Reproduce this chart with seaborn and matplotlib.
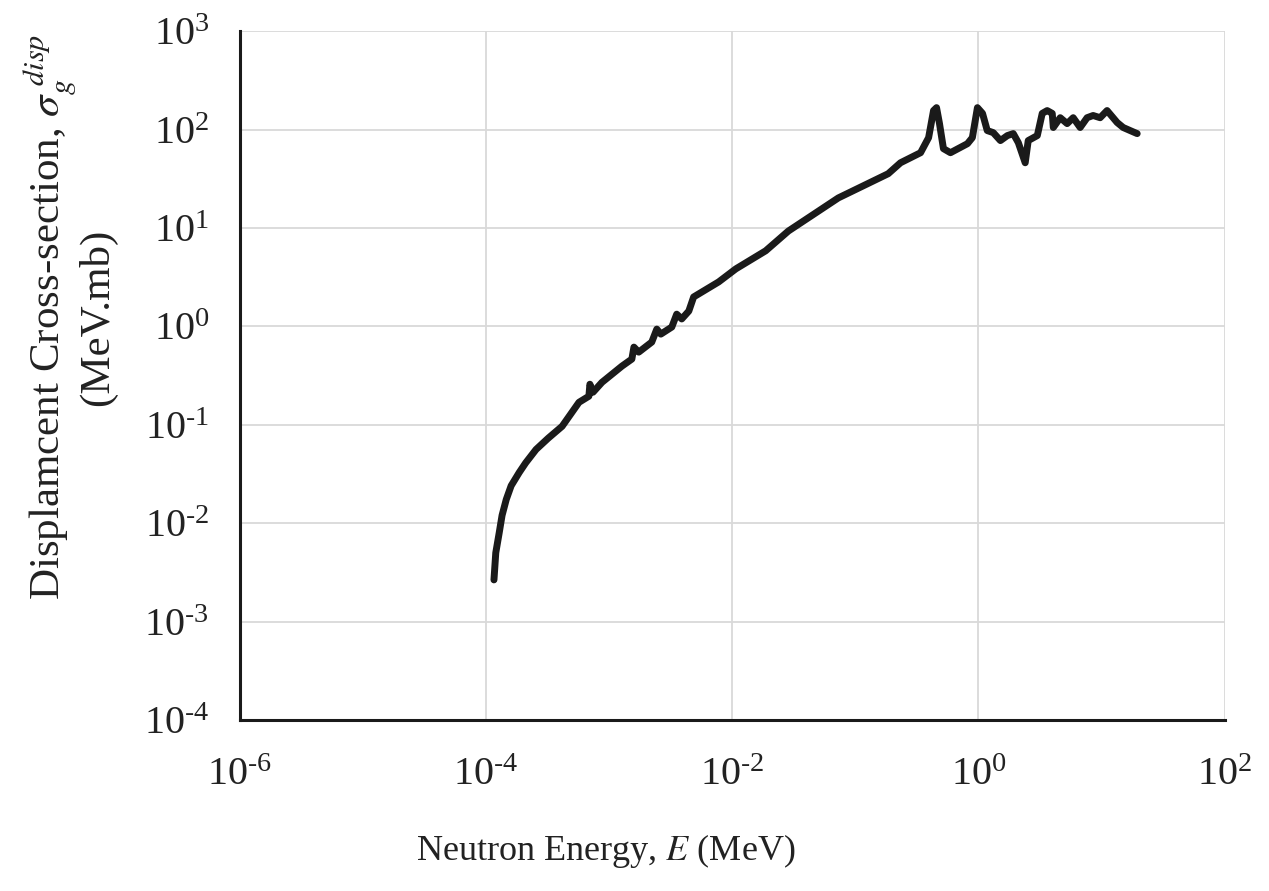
import numpy as np
import pandas as pd
import seaborn as sns
import matplotlib
matplotlib.use("Agg")
import matplotlib.pyplot as plt
from matplotlib.ticker import FixedLocator, FixedFormatter, NullLocator

# neutron energy (MeV)
energy = [
    1.16e-4, 1.20e-4, 1.28e-4, 1.35e-4, 1.46e-4, 1.60e-4, 1.86e-4, 2.10e-4,
    2.55e-4, 3.20e-4, 4.15e-4, 5.69e-4, 6.85e-4,
    6.98e-4, 7.40e-4, 8.75e-4, 1.27e-3, 1.53e-3, 1.59e-3, 1.74e-3, 2.22e-3,
    2.44e-3, 2.63e-3, 3.23e-3, 3.54e-3, 3.89e-3, 4.44e-3, 4.86e-3, 7.76e-3,
    1.07e-2, 1.87e-2, 2.86e-2, 7.28e-2, 0.185, 0.233, 0.339, 0.394,
    0.432, 0.457, 0.483, 0.520, 0.593, 0.815, 0.893, 0.982,
    1.08, 1.18, 1.32, 1.51, 1.72, 1.92, 2.11, 2.40,
    2.54, 3.01, 3.30, 3.62, 3.98, 4.06, 4.62, 5.26,
    5.89, 6.71, 7.64, 8.55, 9.75, 11.1, 13.4, 15.0,
    17.1, 19.5,
]

# displacement cross-section (MeV.mb)
sigma = [
    2.65e-3, 5.0e-3, 8.0e-3, 1.2e-2, 1.74e-2, 2.4e-2, 3.27e-2, 4.1e-2,
    5.61e-2, 7.3e-2, 9.64e-2, 0.169, 0.195,
    0.258, 0.214, 0.270, 0.394, 0.465, 0.615, 0.547, 0.692,
    0.938, 0.834, 0.984, 1.33, 1.19, 1.43, 1.99, 2.83,
    3.84, 5.86, 9.31, 20.2, 35.6, 46.0, 58.2, 82.8,
    156, 167, 115, 64.0, 58.2, 71.9, 82.8, 167,
    146, 97.7, 93.1, 77.3, 86.9, 91.0, 73.6, 46.0,
    77.3, 86.9, 146, 156, 146, 105, 132, 115,
    132, 105, 132, 139, 132, 156, 118, 105,
    97.7, 91.0,
]

x_ticks = [1e-6, 1e-4, 1e-2, 1e0, 1e2]
x_tick_labels = ["-6", "-4", "-2", "0", "2"]
y_ticks = [1e-4, 1e-3, 1e-2, 1e-1, 1e0, 1e1, 1e2, 1e3]
y_tick_labels = ["-4", "-3", "-2", "-1", "0", "1", "2", "3"]


def power_label(exp):
    if exp.startswith("-"):
        return r"$\mathdefault{10^{\text{-}" + exp[1:] + r"}}$"
    return r"$\mathdefault{10^{" + exp + r"}}$"


df = pd.DataFrame({"E": energy, "sigma": sigma})

sns.set_theme(style="white")
plt.rcParams["font.family"] = ["Liberation Serif", "DejaVu Serif"]
plt.rcParams["mathtext.fontset"] = "stix"

fig = plt.figure(figsize=(12.69, 8.91), dpi=100)
ax = fig.add_axes([0.189, 0.192, 0.776, 0.773])
ax.set_xscale("log")
ax.set_yscale("log")

sns.lineplot(data=df, x="E", y="sigma", sort=False, estimator=None,
             color="#1a1a1a", linewidth=5, ax=ax)

ax.set_xlim(1e-6, 1e2)
ax.set_ylim(1e-4, 1e3)

ax.xaxis.set_major_locator(FixedLocator(x_ticks))
ax.yaxis.set_major_locator(FixedLocator(y_ticks))
ax.xaxis.set_major_formatter(FixedFormatter([power_label(s) for s in x_tick_labels]))
ax.yaxis.set_major_formatter(FixedFormatter([power_label(s) for s in y_tick_labels]))
ax.xaxis.set_minor_locator(NullLocator())
ax.yaxis.set_minor_locator(NullLocator())

ax.grid(True, which="major", color="#d9d9d9", linewidth=1.3)
ax.set_axisbelow(True)
ax.tick_params(axis="both", length=0, labelsize=29, colors="#222222")
ax.tick_params(axis="y", pad=22)
ax.tick_params(axis="x", pad=27)

for side in ["top", "right"]:
    ax.spines[side].set_visible(False)
for side in ["left", "bottom"]:
    ax.spines[side].set_color("#1a1a1a")
    ax.spines[side].set_linewidth(2.2)

ax.set_xlabel(r"Neutron Energy, $\it{E}$ (MeV)", fontsize=26, color="#222222")
ax.xaxis.set_label_coords(0.372, -0.163)
ax.set_ylabel("Displamcent Cross-section, $\\sigma_g^{\\ disp}$\n(MeV.mb)",
              fontsize=31, color="#222222", linespacing=0.95)
ax.yaxis.set_label_coords(-0.125, 0.585)

fig.savefig("out.png", dpi=100)
